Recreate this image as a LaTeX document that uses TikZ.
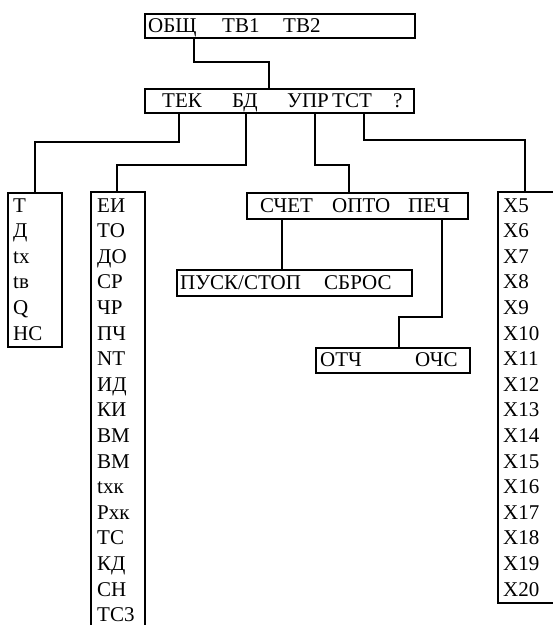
\documentclass[tikz,border=0pt]{standalone}
\usepackage{fontspec}
\setmainfont{Liberation Serif}
\begin{document}
\begin{tikzpicture}[x=1pt,y=-1pt,
  ln/.style={line width=1.8pt,line join=miter},
  box/.style={draw,line width=1.8pt,inner sep=0pt,anchor=north west},
  lbl/.style={inner sep=0pt,anchor=base west,font=\fontsize{21pt}{25pt}\selectfont}]
\useasboundingbox (0,0) rectangle (553,625);
% boxes
\node[box,minimum width=270pt,minimum height=24pt] (b1) at (144,13) {};
\node[box,minimum width=269pt,minimum height=24pt] (b2) at (144,88) {};
\node[box,minimum width=221pt,minimum height=26pt] (b3) at (246,192) {};
\node[box,minimum width=235pt,minimum height=26pt] (b4) at (176,269) {};
\node[box,minimum width=154pt,minimum height=25pt] (b5) at (315,347) {};
\node[box,minimum width=54pt,minimum height=154pt] (b6) at (7,192) {};
\draw[ln] (91,630) -- (91,192) -- (145,192) -- (145,630);
\draw[ln] (560,192) -- (498,192) -- (498,603) -- (560,603);
% labels in boxes
\node[lbl] (l1) at (148,32) {ОБЩ};
\node[lbl] (l2) at (222,32) {ТВ1};
\node[lbl] (l3) at (283,32) {ТВ2};
\node[lbl] (l4) at (162,107) {ТЕК};
\node[lbl] (l5) at (232,107) {БД};
\node[lbl] (l6) at (287,107) {УПР};
\node[lbl] (l7) at (332,107) {ТСТ};
\node[lbl] (l8) at (393,107) {?};
\node[lbl] (l9) at (260,212) {СЧЕТ};
\node[lbl] (l10) at (332,212) {ОПТО};
\node[lbl] (l11) at (408,212) {ПЕЧ};
\node[lbl] (l12) at (180,289) {ПУСК/СТОП};
\node[lbl] (l13) at (324,289) {СБРОС};
\node[lbl] (l14) at (320,366) {ОТЧ};
\node[lbl] (l15) at (415,366) {ОЧС};
% columns
\foreach \t [count=\i from 0] in {Т,Д,tx,tв,Q,НС}
  \node[lbl] (ta\i) at (13,{212+25.6*\i}) {\t};
\foreach \t [count=\i from 0] in {ЕИ,ТО,ДО,СР,ЧР,ПЧ,NT,ИД,КИ,ВМ,ВМ,tхк,Рхк,ТС,КД,СН,ТС3}
  \node[lbl] (tb\i) at (97,{212+25.6*\i}) {\t};
\foreach \t [count=\i from 0] in {X5,X6,X7,X8,X9,X10,X11,X12,X13,X14,X15,X16,X17,X18,X19,X20}
  \node[lbl] (tc\i) at (503,{212+25.6*\i}) {\t};
% connector ends
\coordinate (d1) at (194,37);  \coordinate (e1) at (269,88);
\coordinate (d2) at (179,112); \coordinate (e2) at (35,192);
\coordinate (d3) at (246,112); \coordinate (e3) at (117,192);
\coordinate (d4) at (315,112); \coordinate (e4) at (349,192);
\coordinate (d5) at (364,112); \coordinate (e5) at (525,192);
\coordinate (d6) at (282,218); \coordinate (e6) at (282,269);
\coordinate (d7) at (442,218); \coordinate (e7) at (399,347);
\draw[ln] (d1) -- ++(0,25) -| (e1);
\draw[ln] (d2) -- ++(0,30) -| (e2);
\draw[ln] (d3) -- ++(0,53) -| (e3);
\draw[ln] (d4) -- ++(0,53) -| (e4);
\draw[ln] (d5) -- ++(0,28) -| (e5);
\draw[ln] (d6) -- (e6);
\draw[ln] (d7) -- ++(0,99) -| (e7);
\end{tikzpicture}
\end{document}
